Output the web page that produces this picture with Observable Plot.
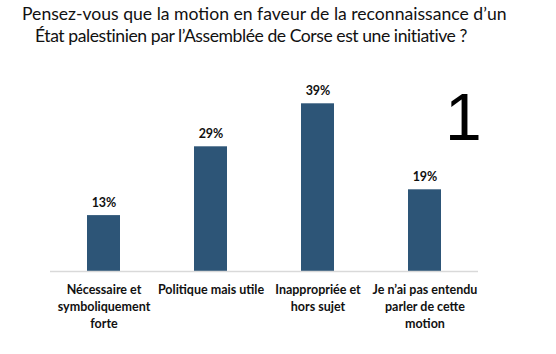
<!DOCTYPE html>
<html>
<head>
<meta charset="utf-8">
<script src="https://cdn.jsdelivr.net/npm/d3@7"></script>
<script src="https://cdn.jsdelivr.net/npm/@observablehq/plot@0.6"></script>
<style>
  html, body { margin: 0; padding: 0; background: #fff; }
  #wrap { position: relative; width: 556px; height: 354px; overflow: hidden; }
  .tl { position: absolute; white-space: nowrap; font-family: Lato, sans-serif;
        font-size: 17.6px; line-height: 22px; color: #111; }
  #t1 { left: 22px; top: 3px; }
  #t2 { left: 35px; top: 25px; letter-spacing: -0.45px; }
  #num { position: absolute; left: 445px; top: 84px; font-family: "Liberation Sans", Arial, sans-serif;
         font-size: 66px; font-weight: 400; color: #000; line-height: 1; }
  #chart { position: absolute; left: 0; top: 0; }
</style>
</head>
<body>
<div id="wrap">
  <div id="chart"></div>
  <div class="tl" id="t1">Pensez-vous que la motion en faveur de la reconnaissance d’un</div>
  <div class="tl" id="t2">État palestinien par l’Assemblée de Corse est une initiative ?</div>
  <div id="num">1</div>
</div>
<script>
const categories = [
  "Nécessaire et\nsymboliquement\nforte",
  "Politique mais utile",
  "Inappropriée et\nhors sujet",
  "Je n’ai pas entendu\nparler de cette\nmotion"
];
const values = [13, 29, 39, 19];
const valueLabels = ["13%", "29%", "39%", "19%"];

const data = categories.map((c, i) => ({cat: c, v: values[i], label: valueLabels[i]}));

const chart = Plot.plot({
  width: 556,
  height: 354,
  marginLeft: 50,
  marginRight: 78,
  marginTop: 99,
  marginBottom: 83,
  style: {fontFamily: "Lato, sans-serif", background: "transparent"},
  x: {domain: categories, paddingInner: 0.69, paddingOuter: 0.345, axis: null},
  y: {domain: [0, 40], axis: null},
  marks: [
    Plot.barY(data, {x: "cat", y: "v", fill: "#2d5577"}),
    Plot.ruleY([0], {stroke: "#d9d9d9", strokeWidth: 1.5}),
    Plot.text(data, {x: "cat", y: "v", text: "label", dy: -13, fontWeight: "bold", fontSize: 12.5, fill: "#111"}),
    Plot.text(data, {x: "cat", y: 0, text: "cat", lineAnchor: "top", dy: 10, fontWeight: "bold", fontSize: 12.5, lineHeight: 1.36, fill: "#111"})
  ]
});
document.getElementById("chart").appendChild(chart);
</script>
</body>
</html>
